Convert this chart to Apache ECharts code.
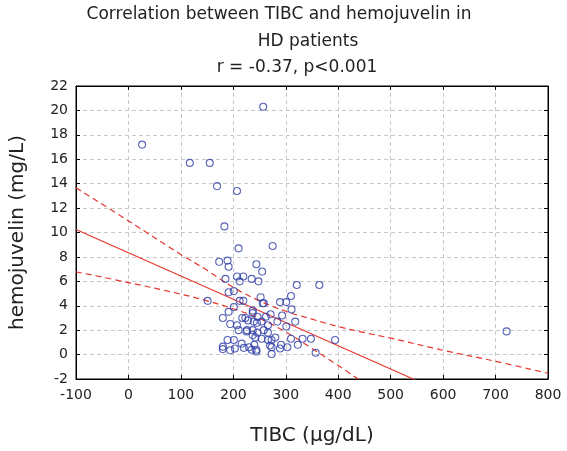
<!DOCTYPE html>
<html><head><meta charset="utf-8">
<script src="https://cdn.jsdelivr.net/npm/echarts@6/dist/echarts.min.js"></script>
<style>html,body{margin:0;padding:0;background:#fff}#c{width:567px;height:451px}</style>
</head><body><div id="c"></div>
<script>
const titleLines = ['Correlation between TIBC and hemojuvelin in', 'HD patients', 'r = -0.37, p<0.001'];
const xName = 'TIBC (µg/dL)';
const yName = 'hemojuvelin (mg/L)';

const tibc = [26,117,155,169,207,257,183,210,275,173,189,191,244,255,185,207,219,212,235,248,321,364,191,201,310,252,151,212,219,256,258,289,301,201,311,191,237,237,180,217,223,228,246,262,271,293,239,245,254,266,284,318,194,207,210,226,237,258,301,225,246,266,237,242,254,273,280,266,189,201,310,332,348,394,721,216,240,180,180,194,203,220,230,235,244,244,270,273,291,289,303,323,273,357];
const hjv = [17.2,15.7,15.7,13.8,13.4,20.3,10.5,8.7,8.9,7.6,7.7,7.2,7.4,6.8,6.2,6.4,6.4,6.0,6.2,6.0,5.7,5.7,5.1,5.2,4.8,4.7,4.4,4.4,4.4,4.2,4.2,4.3,4.3,3.9,3.7,3.5,3.6,3.4,3.0,3.0,3.0,2.8,3.1,3.1,3.3,3.2,2.7,2.6,2.7,2.4,2.7,2.7,2.5,2.4,2.0,2.0,2.0,2.0,2.3,1.9,1.8,1.8,1.6,1.4,1.3,1.2,1.4,1.2,1.2,1.2,1.3,1.3,1.3,1.2,1.9,0.9,0.8,0.65,0.45,0.35,0.5,0.55,0.6,0.4,0.4,0.25,0.75,0.6,0.8,0.5,0.6,0.8,0.05,0.15];

const fitX = [-100, 800];
const fitY = [10.25, -6.9];
const upperX = [-100, 0, 100, 150, 200, 250, 300, 350, 400, 450, 500, 600, 700, 800];
const upperY = [13.67, 10.95, 8.2, 6.9, 5.5, 4.4, 3.55, 2.9, 2.3, 1.8, 1.35, 0.35, -0.55, -1.53];
const lowerX = [-100, 0, 100, 150, 200, 250, 300, 350, 400, 450];
const lowerY = [6.78, 5.9, 4.95, 4.4, 3.75, 2.95, 1.85, 0.5, -0.9, -2.35];

const xTicks = [-100, 800, 100];
const yTicks = [-2, 22, 2];

const zip = (a, b) => a.map((v, i) => [v, b[i]]);
const red = '#e8352c';
const font = 'DejaVu Sans';

const chart = echarts.init(document.getElementById('c'));
const gridSplit = {show: true, lineStyle: {color: '#c8c8c8', type: [4, 3], width: 1}};
const baseX = {type: 'value', min: xTicks[0], max: xTicks[1], interval: xTicks[2]};
const baseY = {type: 'value', min: yTicks[0], max: yTicks[1], interval: yTicks[2]};
const frameLine = {show: true, onZero: false, lineStyle: {color: '#000', width: 1}};
const inTick = {show: true, inside: true, length: 4, lineStyle: {color: '#000'}};
chart.setOption({
  animation: false,
  graphic: [
    {type: 'text', x: 279, y: 15, style: {text: titleLines[0], font: '17px "DejaVu Sans"', fill: '#222', textAlign: 'center', textVerticalAlign: 'middle'}},
    {type: 'text', x: 308, y: 42, style: {text: titleLines[1], font: '17px "DejaVu Sans"', fill: '#222', textAlign: 'center', textVerticalAlign: 'middle'}},
    {type: 'text', x: 297, y: 68, style: {text: titleLines[2], font: '17px "DejaVu Sans"', fill: '#222', textAlign: 'center', textVerticalAlign: 'middle'}}
  ],
  grid: {left: 70, top: 86, width: 478, height: 305, show: true, borderColor: '#000', borderWidth: 1},
  xAxis: [
    Object.assign({}, baseX, {
      position: 'bottom',
      name: xName, nameLocation: 'middle', nameGap: 47,
      nameTextStyle: {fontFamily: font, fontSize: 20, color: '#222'},
      axisLine: frameLine, axisTick: inTick,
      axisLabel: {fontFamily: font, fontSize: 14, color: '#222', margin: 9},
      splitLine: gridSplit
    }),
    Object.assign({}, baseX, {
      position: 'top',
      axisLine: frameLine, axisTick: inTick,
      axisLabel: {show: false}, splitLine: {show: false}
    })
  ],
  yAxis: [
    Object.assign({}, baseY, {
      position: 'left',
      name: yName, nameLocation: 'middle', nameGap: 48,
      nameTextStyle: {fontFamily: font, fontSize: 20, color: '#222'},
      axisLine: frameLine, axisTick: inTick,
      axisLabel: {fontFamily: font, fontSize: 14, color: '#222', margin: 8},
      splitLine: gridSplit
    }),
    Object.assign({}, baseY, {
      position: 'right',
      axisLine: frameLine, axisTick: inTick,
      axisLabel: {show: false}, splitLine: {show: false}
    })
  ],
  series: [
    {type: 'line', data: zip(upperX, upperY), smooth: 0.4, showSymbol: false, symbol: 'none',
     lineStyle: {color: red, width: 1.2, type: [6, 4]}, clip: true, z: 2},
    {type: 'line', data: zip(lowerX, lowerY), smooth: 0.4, showSymbol: false, symbol: 'none',
     lineStyle: {color: red, width: 1.2, type: [6, 4]}, clip: true, z: 2},
    {type: 'line', data: zip(fitX, fitY), showSymbol: false, symbol: 'none',
     lineStyle: {color: red, width: 1.1}, clip: true, z: 2},
    {type: 'scatter', data: zip(tibc, hjv), symbol: 'circle', symbolSize: 7,
     itemStyle: {color: 'rgba(0,0,0,0)', borderColor: '#2f3fa8', borderWidth: 1.1}, z: 3}
  ]
});
</script></body></html>
